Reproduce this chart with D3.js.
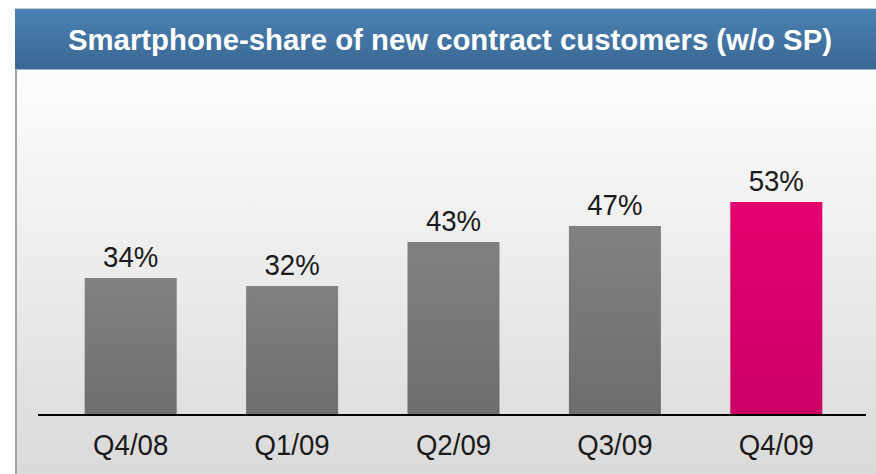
<html>
<head>
<meta charset="utf-8">
<script src="https://d3js.org/d3.v7.min.js"></script>
<style>
  body { margin: 0; background: #ffffff; }
  svg { display: block; }
</style>
</head>
<body>
<script>
var quarters = ["Q4/08", "Q1/09", "Q2/09", "Q3/09", "Q4/09"]
var shares = [34, 32, 43, 47, 53]
var title = "Smartphone-share of new contract customers (w/o SP)"

var width = 876, height = 474
var frameLeft = 15, frameTop = 9, headerBottom = 70
var baseline = 414
var font = "'Liberation Sans', Arial, sans-serif"

var svg = d3.select("body").append("svg")
  .attr("width", width)
  .attr("height", height)

var defs = svg.append("defs")
function grad(id, stops) {
  var g = defs.append("linearGradient").attr("id", id)
    .attr("x1", 0).attr("y1", 0).attr("x2", 0).attr("y2", 1)
  stops.forEach(function(s) {
    g.append("stop").attr("offset", s[0]).attr("stop-color", s[1])
  })
}
grad("head", [[0, "#4a81b4"], [1, "#3a6792"]])
grad("panel", [[0, "#fdfdfd"], [1, "#dadada"]])
grad("grey", [[0, "#818181"], [1, "#6e6e6e"]])
grad("pink", [[0, "#e4006f"], [1, "#cc0066"]])

// squeeze text to look like a condensed face
function narrow(sel, k) {
  sel.each(function() {
    var w = this.getComputedTextLength()
    d3.select(this).attr("textLength", w * k).attr("lengthAdjust", "spacingAndGlyphs")
  })
}

// frame
svg.append("rect")
  .attr("x", frameLeft).attr("y", headerBottom)
  .attr("width", width - frameLeft).attr("height", height - headerBottom)
  .attr("fill", "url(#panel)")
svg.append("line")
  .attr("x1", frameLeft + 1).attr("x2", frameLeft + 1)
  .attr("y1", frameTop).attr("y2", height)
  .attr("stroke", "#a3a3a3").attr("stroke-width", 2)
svg.append("rect")
  .attr("x", frameLeft).attr("y", frameTop)
  .attr("width", width - frameLeft).attr("height", headerBottom - frameTop)
  .attr("fill", "url(#head)")
svg.append("line")
  .attr("x1", frameLeft).attr("x2", width)
  .attr("y1", frameTop - 0.5).attr("y2", frameTop - 0.5)
  .attr("stroke", "#c9ccd0")
svg.append("line")
  .attr("x1", frameLeft).attr("x2", width)
  .attr("y1", headerBottom - 0.5).attr("y2", headerBottom - 0.5)
  .attr("stroke", "#9fb6cc")

svg.append("text")
  .attr("x", 450).attr("y", 50)
  .attr("text-anchor", "middle")
  .attr("fill", "#ffffff")
  .attr("font-family", font)
  .attr("font-weight", "bold")
  .attr("font-size", "30px")
  .attr("textLength", 764)
  .attr("lengthAdjust", "spacingAndGlyphs")
  .text(title)

// scales
var x = d3.scaleBand()
  .domain(quarters)
  .range([50, 857])
  .paddingInner(0.43)
  .paddingOuter(0.215)

var y = d3.scaleLinear()
  .domain([0, 60])
  .range([baseline, baseline - 240])

svg.selectAll("rect.bar")
  .data(shares)
  .enter()
  .append("rect")
  .attr("class", "bar")
  .attr("x", function(d, i) { return x(quarters[i]) })
  .attr("y", function(d) { return y(d) })
  .attr("width", x.bandwidth())
  .attr("height", function(d) { return y(0) - y(d) })
  .attr("fill", function(d, i) { return i == shares.length - 1 ? "url(#pink)" : "url(#grey)" })

svg.selectAll("text.val")
  .data(shares)
  .enter()
  .append("text")
  .attr("class", "val")
  .attr("x", function(d, i) { return x(quarters[i]) + x.bandwidth() / 2 })
  .attr("y", function(d) { return y(d) - 11 })
  .attr("text-anchor", "middle")
  .attr("fill", "#1a1a1a")
  .attr("font-family", font)
  .attr("font-size", "30px")
  .text(function(d) { return d + "%" })
  .call(narrow, 0.92)

// x axis
var axis = svg.append("g")
  .attr("transform", "translate(0," + (baseline + 1) + ")")
  .call(d3.axisBottom(x).tickSize(0))
axis.select(".domain").remove()
axis.selectAll("text")
  .attr("y", 40).attr("dy", 0)
  .attr("fill", "#1a1a1a")
  .attr("font-family", font)
  .attr("font-size", "30px")
  .call(narrow, 0.92)

svg.append("line")
  .attr("x1", 38).attr("x2", 866)
  .attr("y1", baseline + 1).attr("y2", baseline + 1)
  .attr("stroke", "#000000").attr("stroke-width", 2)
</script>
</body>
</html>
